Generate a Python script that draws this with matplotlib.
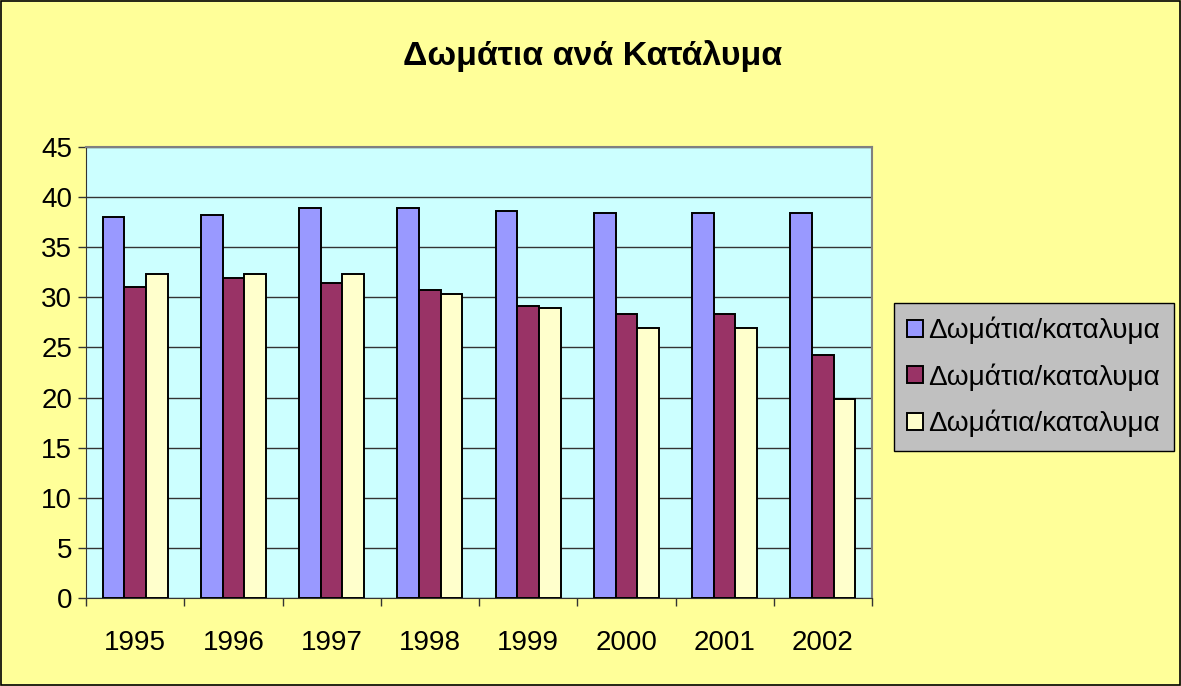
import numpy as np
import matplotlib.pyplot as plt
from matplotlib.patches import Rectangle

plt.rcParams['font.family'] = ['Liberation Sans', 'DejaVu Sans']

# data
years = ['1995', '1996', '1997', '1998', '1999', '2000', '2001', '2002']
series_1 = [38.0, 38.2, 38.9, 38.9, 38.6, 38.4, 38.4, 38.4]
series_2 = [31.0, 31.9, 31.4, 30.7, 29.1, 28.3, 28.3, 24.2]
series_3 = [32.3, 32.3, 32.3, 30.3, 28.9, 26.9, 26.9, 19.9]
labels = ['Δωμάτια/καταλυμα', 'Δωμάτια/καταλυμα', 'Δωμάτια/καταλυμα']
colors = ['#9999FF', '#993366', '#FFFFCC']

fig = plt.figure(figsize=(11.81, 6.86), dpi=100)
fig.patch.set_facecolor('#FFFF99')
fig.patches.append(Rectangle((0.001, 0.0015), 0.998, 0.997, transform=fig.transFigure,
                             fill=False, edgecolor='black', linewidth=1.2))

ax = fig.add_axes([86 / 1181, 1 - 598 / 686, (872 - 86) / 1181, (598 - 147) / 686])
ax.set_facecolor('#CCFFFF')

x = np.arange(len(years))
w = 0.22
bars = []
for i, vals in enumerate([series_1, series_2, series_3]):
    b = ax.bar(x + (i - 1) * w, vals, width=w, color=colors[i], edgecolor='black',
               linewidth=1.4, label=labels[i], zorder=3)
    bars.append(b)

ax.set_xlim(-0.5, len(years) - 0.5)
ax.set_ylim(0, 45)
ax.set_yticks(np.arange(0, 46, 5))
ax.yaxis.grid(True, color='#333333', linewidth=1.0, zorder=1)

ax.set_xticks(np.arange(-0.5, len(years), 1.0))
ax.set_xticklabels([])
ax.set_xticks(x, minor=True)
ax.set_xticklabels(years, minor=True)
ax.tick_params(axis='x', which='major', length=6, width=1, color='#333333')
ax.tick_params(axis='x', which='minor', length=0, pad=23, labelsize=20)
ax.tick_params(axis='y', length=6, width=1, color='#333333', labelsize=20, pad=4)

for side in ['top', 'right']:
    ax.spines[side].set_color('#808080')
    ax.spines[side].set_linewidth(1.5)
ax.spines['left'].set_color('#333333')
ax.spines['bottom'].set_color('#333333')

fig.text(0.502, 0.918, 'Δωμάτια ανά Κατάλυμα', ha='center', va='center',
         fontsize=24.5, fontweight='bold')

leg = fig.legend(handles=bars, labels=labels, loc='center left',
                 bbox_to_anchor=(894 / 1181, 1 - 377 / 686), fontsize=20.2,
                 frameon=True, fancybox=False, framealpha=1, edgecolor='black',
                 facecolor='#C0C0C0', handlelength=0.55, handleheight=0.55,
                 handletextpad=0.2, borderpad=0.48, labelspacing=0.68,
                 borderaxespad=0)
leg.get_frame().set_linewidth(1.0)

plt.savefig('out.png', dpi=100, facecolor=fig.get_facecolor())
